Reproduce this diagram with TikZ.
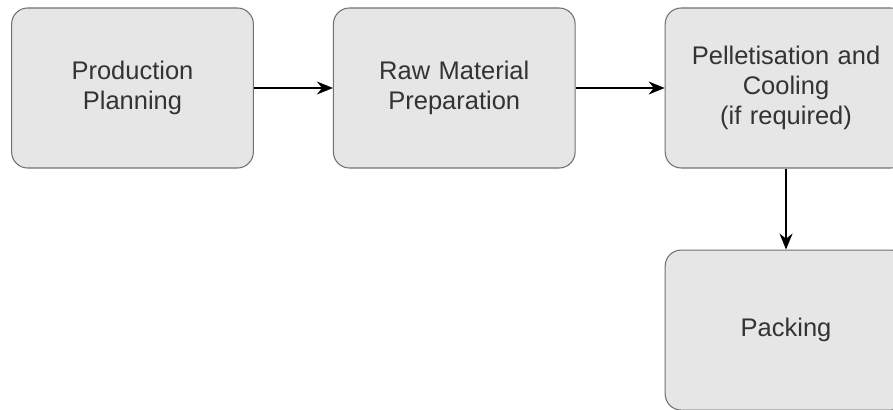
\documentclass[tikz,border=0pt]{standalone}
\usepackage{fontspec}
\setmainfont{Liberation Sans}
\usepackage{tikz}
\usetikzlibrary{positioning,arrows.meta}
\definecolor{boxfill}{HTML}{E6E6E6}
\definecolor{boxline}{HTML}{707070}
\definecolor{boxtext}{HTML}{333333}

\begin{document}
\begin{tikzpicture}[
	stage/.style={draw=boxline, fill=boxfill, rounded corners=0.32cm, minimum width=4.82cm,
		minimum height=3.2cm, text width=4.6cm, align=center, text=boxtext,
		font=\fontsize{14.5}{17}\selectfont, line width=0.6pt},
	flow/.style={-{Stealth[length=0.32cm,width=0.26cm]}, line width=0.8pt}
]
	\useasboundingbox (0,0) rectangle (17.86,-8.2);
	\clip (0,0) rectangle (17.86,-8.2);
	\node[stage] (plan) at (2.65,-1.76) {Production\\Planning};
	\node[stage, right=1.58cm of plan] (prep) {Raw Material\\Preparation};
	\node[stage, right=1.78cm of prep] (pellet) {Pelletisation and\\Cooling\\(if required)};
	\node[stage, below=1.62cm of pellet] (pack) {Packing};
	\draw[flow] (plan) -- (prep);
	\draw[flow] (prep) -- (pellet);
	\draw[flow] (pellet) -- (pack);
\end{tikzpicture}
\end{document}
